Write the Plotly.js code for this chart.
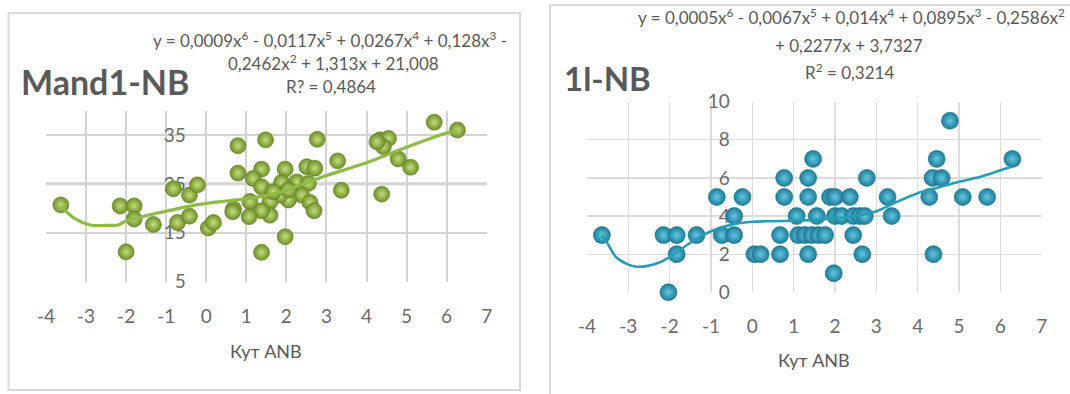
<!DOCTYPE html>
<html>
<head>
<meta charset="utf-8">
<script src="https://cdn.plot.ly/plotly-3.0.1.min.js"></script>
<style>
  html, body { margin: 0; padding: 0; background: #ffffff; }
  #chart { width: 1070px; height: 394px; }
</style>
</head>
<body>
<div id="chart"></div>
<script>
// ---------- Data ----------
// Left panel: Mand1-NB vs Кут ANB
const leftX = [-3.63, -2.15, -1.80, -1.80, -2.00, -1.32, -0.82, -0.42, -0.22, -0.72, -0.42, 0.05, 0.18,
  0.79, 1.48, 2.77, 3.28, 3.37, 0.79, 1.38, 1.17, 1.38, 1.97, 1.88, 2.26, 2.51, 2.71, 2.55, 2.38,
  2.59, 2.69, 2.05, 1.84, 1.59, 1.59, 1.38, 1.09, 1.07, 0.68, 0.66, 1.97, 1.38, 2.05, 1.67,
  5.69, 6.27, 4.34, 4.55, 4.42, 4.26, 4.79, 5.10, 4.38];
const leftY = [20.7, 20.5, 20.5, 17.8, 11.1, 16.7, 24.0, 22.7, 24.8, 17.1, 18.4, 16.0, 17.1,
  32.8, 34.0, 34.1, 29.7, 23.7, 27.2, 28.0, 26.1, 24.4, 28.0, 25.3, 25.4, 28.5, 28.2, 25.1, 22.7,
  21.2, 19.5, 21.7, 22.7, 21.4, 18.6, 19.5, 21.4, 18.3, 19.9, 19.3, 14.2, 11.0, 23.8, 23.4,
  37.6, 36.0, 34.0, 34.3, 32.6, 33.6, 30.1, 28.4, 22.9];
// Left trend line (6th-order polynomial as drawn)
const leftTrendX = [-3.63, -3.3, -2.9, -2.5, -2.2, -2.0, -1.5, -1.0, -0.5, 0, 0.5, 1.0, 1.5, 2.0, 2.5, 3.0, 3.5, 4.0, 4.5, 5.0, 5.5, 6.0, 6.27];
const leftTrendY = [20.4, 18.0, 16.6, 16.5, 16.6, 17.4, 18.5, 19.4, 20.3, 21.0, 21.5, 22.0, 22.6, 23.7, 25.2, 26.7, 28.0, 29.3, 30.9, 32.5, 34.0, 35.4, 35.9];

// Right panel: 1l-NB vs Кут ANB
const rightX = [-3.64, -2.15, -1.83, -1.83, -2.03, -1.35, -0.86, -0.24, -0.44, -0.74, -0.44, 0.05, 0.20,
  0.67, 0.67, 0.77, 0.77, 1.07, 1.11, 1.27, 1.44, 1.60, 1.76, 1.35, 1.35, 1.35, 1.47, 1.56,
  1.88, 2.00, 2.00, 2.16, 2.36, 2.44, 2.60, 2.44, 2.66, 1.97, 2.77, 2.72, 3.27, 3.37,
  4.78, 4.46, 4.36, 4.58, 4.28, 5.09, 5.68, 6.29, 4.38];
const rightY = [3, 3, 3, 2, 0, 3, 5, 5, 4, 3, 3, 2, 2,
  2, 3, 5, 6, 4, 3, 3, 3, 3, 3, 2, 5, 6, 7, 4,
  5, 5, 4, 4, 5, 4, 4, 3, 2, 1, 6, 4, 5, 4,
  9, 7, 6, 6, 5, 5, 5, 7, 2];
const rightTrendX = [-3.64, -3.5, -3.3, -3.0, -2.8, -2.5, -2.3, -2.0, -1.5, -1.0, -0.5, 0, 0.5, 1.0, 1.5, 2.0, 2.5, 3.0, 3.5, 4.0, 4.5, 5.0, 5.5, 6.0, 6.29];
const rightTrendY = [3.0, 2.55, 1.85, 1.45, 1.34, 1.4, 1.52, 1.85, 2.6, 3.2, 3.55, 3.7, 3.73, 3.76, 3.8, 3.88, 4.0, 4.25, 4.75, 5.2, 5.5, 5.8, 6.05, 6.4, 6.6];

// Tick labels
const xTickVals = [-4, -3, -2, -1, 0, 1, 2, 3, 4, 5, 6, 7];
const xTickText = ["-4", "-3", "-2", "-1", "0", "1", "2", "3", "4", "5", "6", "7"];
const leftYTicks = [5, 15, 25, 35];
const rightYTicks = [0, 2, 4, 6, 8, 10];

// Texts
const leftTitle = "Mand1-NB";
const rightTitle = "1l-NB";
const axisTitle = "Кут ANB";
const leftEq = ["y = 0,0009x<sup>6</sup> - 0,0117x<sup>5</sup> + 0,0267x<sup>4</sup> + 0,128x<sup>3</sup> -",
  "0,2462x<sup>2</sup> + 1,313x + 21,008", "R? = 0,4864"];
const rightEq = ["y = 0,0005x<sup>6</sup> - 0,0067x<sup>5</sup> + 0,014x<sup>4</sup> + 0,0895x<sup>3</sup> - 0,2586x<sup>2</sup>",
  "+ 0,2277x + 3,7327", "R<sup>2</sup> = 0,3214"];

// ---------- Layout helpers (pixel -> paper) ----------
const W = 1070, H = 394;
const px = v => v / W;
const py = v => 1 - v / H;

const FONT = "Lato, 'Open Sans', sans-serif";
const TXT = "#595959";
const EQ = { family: FONT, size: 17, color: TXT };

const traces = [
  {
    x: leftX, y: leftY, type: "scatter", mode: "markers", xaxis: "x", yaxis: "y", cliponaxis: false,
    marker: { size: 16, color: "#6f8f2a", gradient: { type: "radial", color: "#c4de7c" },
              line: { color: "#5f7d22", width: 0.6 } },
    hoverinfo: "x+y", showlegend: false
  },
  {
    x: leftTrendX, y: leftTrendY, type: "scatter", mode: "lines", xaxis: "x", yaxis: "y",
    line: { color: "#8fba45", width: 3.2, shape: "spline", smoothing: 0.8 },
    hoverinfo: "skip", showlegend: false
  },
  {
    x: rightX, y: rightY, type: "scatter", mode: "markers", xaxis: "x2", yaxis: "y2", cliponaxis: false,
    marker: { size: 17, color: "#1d7d98", gradient: { type: "radial", color: "#63c6e0" },
              line: { color: "#1a6f88", width: 0.6 } },
    hoverinfo: "x+y", showlegend: false
  },
  {
    x: rightTrendX, y: rightTrendY, type: "scatter", mode: "lines", xaxis: "x2", yaxis: "y2",
    line: { color: "#2b9ab6", width: 2.6, shape: "spline", smoothing: 0.8 },
    hoverinfo: "skip", showlegend: false
  }
];

const tickFont = { family: FONT, size: 19, color: "#6a6a6a" };

const layout = {
  width: W, height: H,
  margin: { l: 0, r: 0, t: 0, b: 0 },
  paper_bgcolor: "#ffffff",
  plot_bgcolor: "rgba(0,0,0,0)",
  font: { family: FONT, color: TXT },
  showlegend: false,
  xaxis: {
    domain: [px(46), px(486.7)], anchor: "y", range: [-4, 7],
    tickvals: xTickVals, ticktext: xTickText, tickfont: tickFont,
    showgrid: true, gridcolor: "#d3d3d3", gridwidth: 2, zeroline: false, showline: false,
    ticks: "", ticklabelstandoff: 21, layer: "below traces", fixedrange: true
  },
  yaxis: {
    domain: [py(281.7), py(110.5)], anchor: "free", position: px(206.7), range: [5, 40],
    tickvals: leftYTicks, tickfont: tickFont,
    showgrid: true, gridcolor: "#d3d3d3", gridwidth: 2, zeroline: false, showline: false,
    ticks: "", ticklabelstandoff: 21, layer: "below traces", fixedrange: true
  },
  xaxis2: {
    domain: [px(587), px(1041.7)], anchor: "y2", range: [-4, 7],
    tickvals: xTickVals, ticktext: xTickText, tickfont: tickFont,
    showgrid: true, gridcolor: "#dcdcdc", gridwidth: 1.2, zeroline: false, showline: false,
    ticks: "", ticklabelstandoff: 21, layer: "below traces", fixedrange: true
  },
  yaxis2: {
    domain: [py(292.3), py(101.7)], anchor: "free", position: px(750.7), range: [0, 10],
    tickvals: rightYTicks, tickfont: tickFont,
    showgrid: true, gridcolor: "#dcdcdc", gridwidth: 1.2, zeroline: false, showline: false,
    ticks: "", ticklabelstandoff: 21, layer: "below traces", fixedrange: true
  },
  shapes: [
    // chart frames
    { type: "rect", xref: "paper", yref: "paper", x0: px(8.5), x1: px(520), y0: py(390), y1: py(13),
      line: { color: "#d9d9d9", width: 2 }, fillcolor: "rgba(0,0,0,0)", layer: "below" },
    { type: "rect", xref: "paper", yref: "paper", x0: px(550), x1: px(1085), y0: py(410), y1: py(5),
      line: { color: "#d9d9d9", width: 2 }, fillcolor: "rgba(0,0,0,0)", layer: "below" },
    // heavier horizontal line at 25 in the left panel
    { type: "line", xref: "x domain", yref: "y", x0: 0, x1: 1, y0: 25, y1: 25,
      line: { color: "#cfcfcf", width: 3 }, layer: "below" }
  ],
  annotations: [
    { text: "<b>" + leftTitle + "</b>", xref: "paper", yref: "paper", x: px(19), y: py(81),
      xanchor: "left", yanchor: "middle", showarrow: false, font: { family: FONT, size: 34, color: TXT } },
    { text: "<b>" + rightTitle + "</b>", xref: "paper", yref: "paper", x: px(562), y: py(78),
      xanchor: "left", yanchor: "middle", showarrow: false, font: { family: FONT, size: 33, color: TXT } },
    { text: leftEq[0], xref: "paper", yref: "paper", x: px(330), y: py(39), xanchor: "center", yanchor: "middle",
      showarrow: false, font: EQ },
    { text: leftEq[1], xref: "paper", yref: "paper", x: px(333), y: py(62.5), xanchor: "center", yanchor: "middle",
      showarrow: false, font: EQ },
    { text: leftEq[2], xref: "paper", yref: "paper", x: px(331), y: py(87), xanchor: "center", yanchor: "middle",
      showarrow: false, font: EQ },
    { text: rightEq[0], xref: "paper", yref: "paper", x: px(851), y: py(16), xanchor: "center", yanchor: "middle",
      showarrow: false, font: EQ },
    { text: rightEq[1], xref: "paper", yref: "paper", x: px(849), y: py(45.5), xanchor: "center", yanchor: "middle",
      showarrow: false, font: EQ },
    { text: rightEq[2], xref: "paper", yref: "paper", x: px(849), y: py(71), xanchor: "center", yanchor: "middle",
      showarrow: false, font: EQ },
    { text: axisTitle, xref: "paper", yref: "paper", x: px(266), y: py(351), xanchor: "center", yanchor: "middle",
      showarrow: false, font: { family: FONT, size: 18, color: TXT } },
    { text: axisTitle, xref: "paper", yref: "paper", x: px(814), y: py(360), xanchor: "center", yanchor: "middle",
      showarrow: false, font: { family: FONT, size: 18, color: TXT } }
  ]
};

Plotly.newPlot("chart", traces, layout, { displayModeBar: false, staticPlot: true });
</script>
</body>
</html>
